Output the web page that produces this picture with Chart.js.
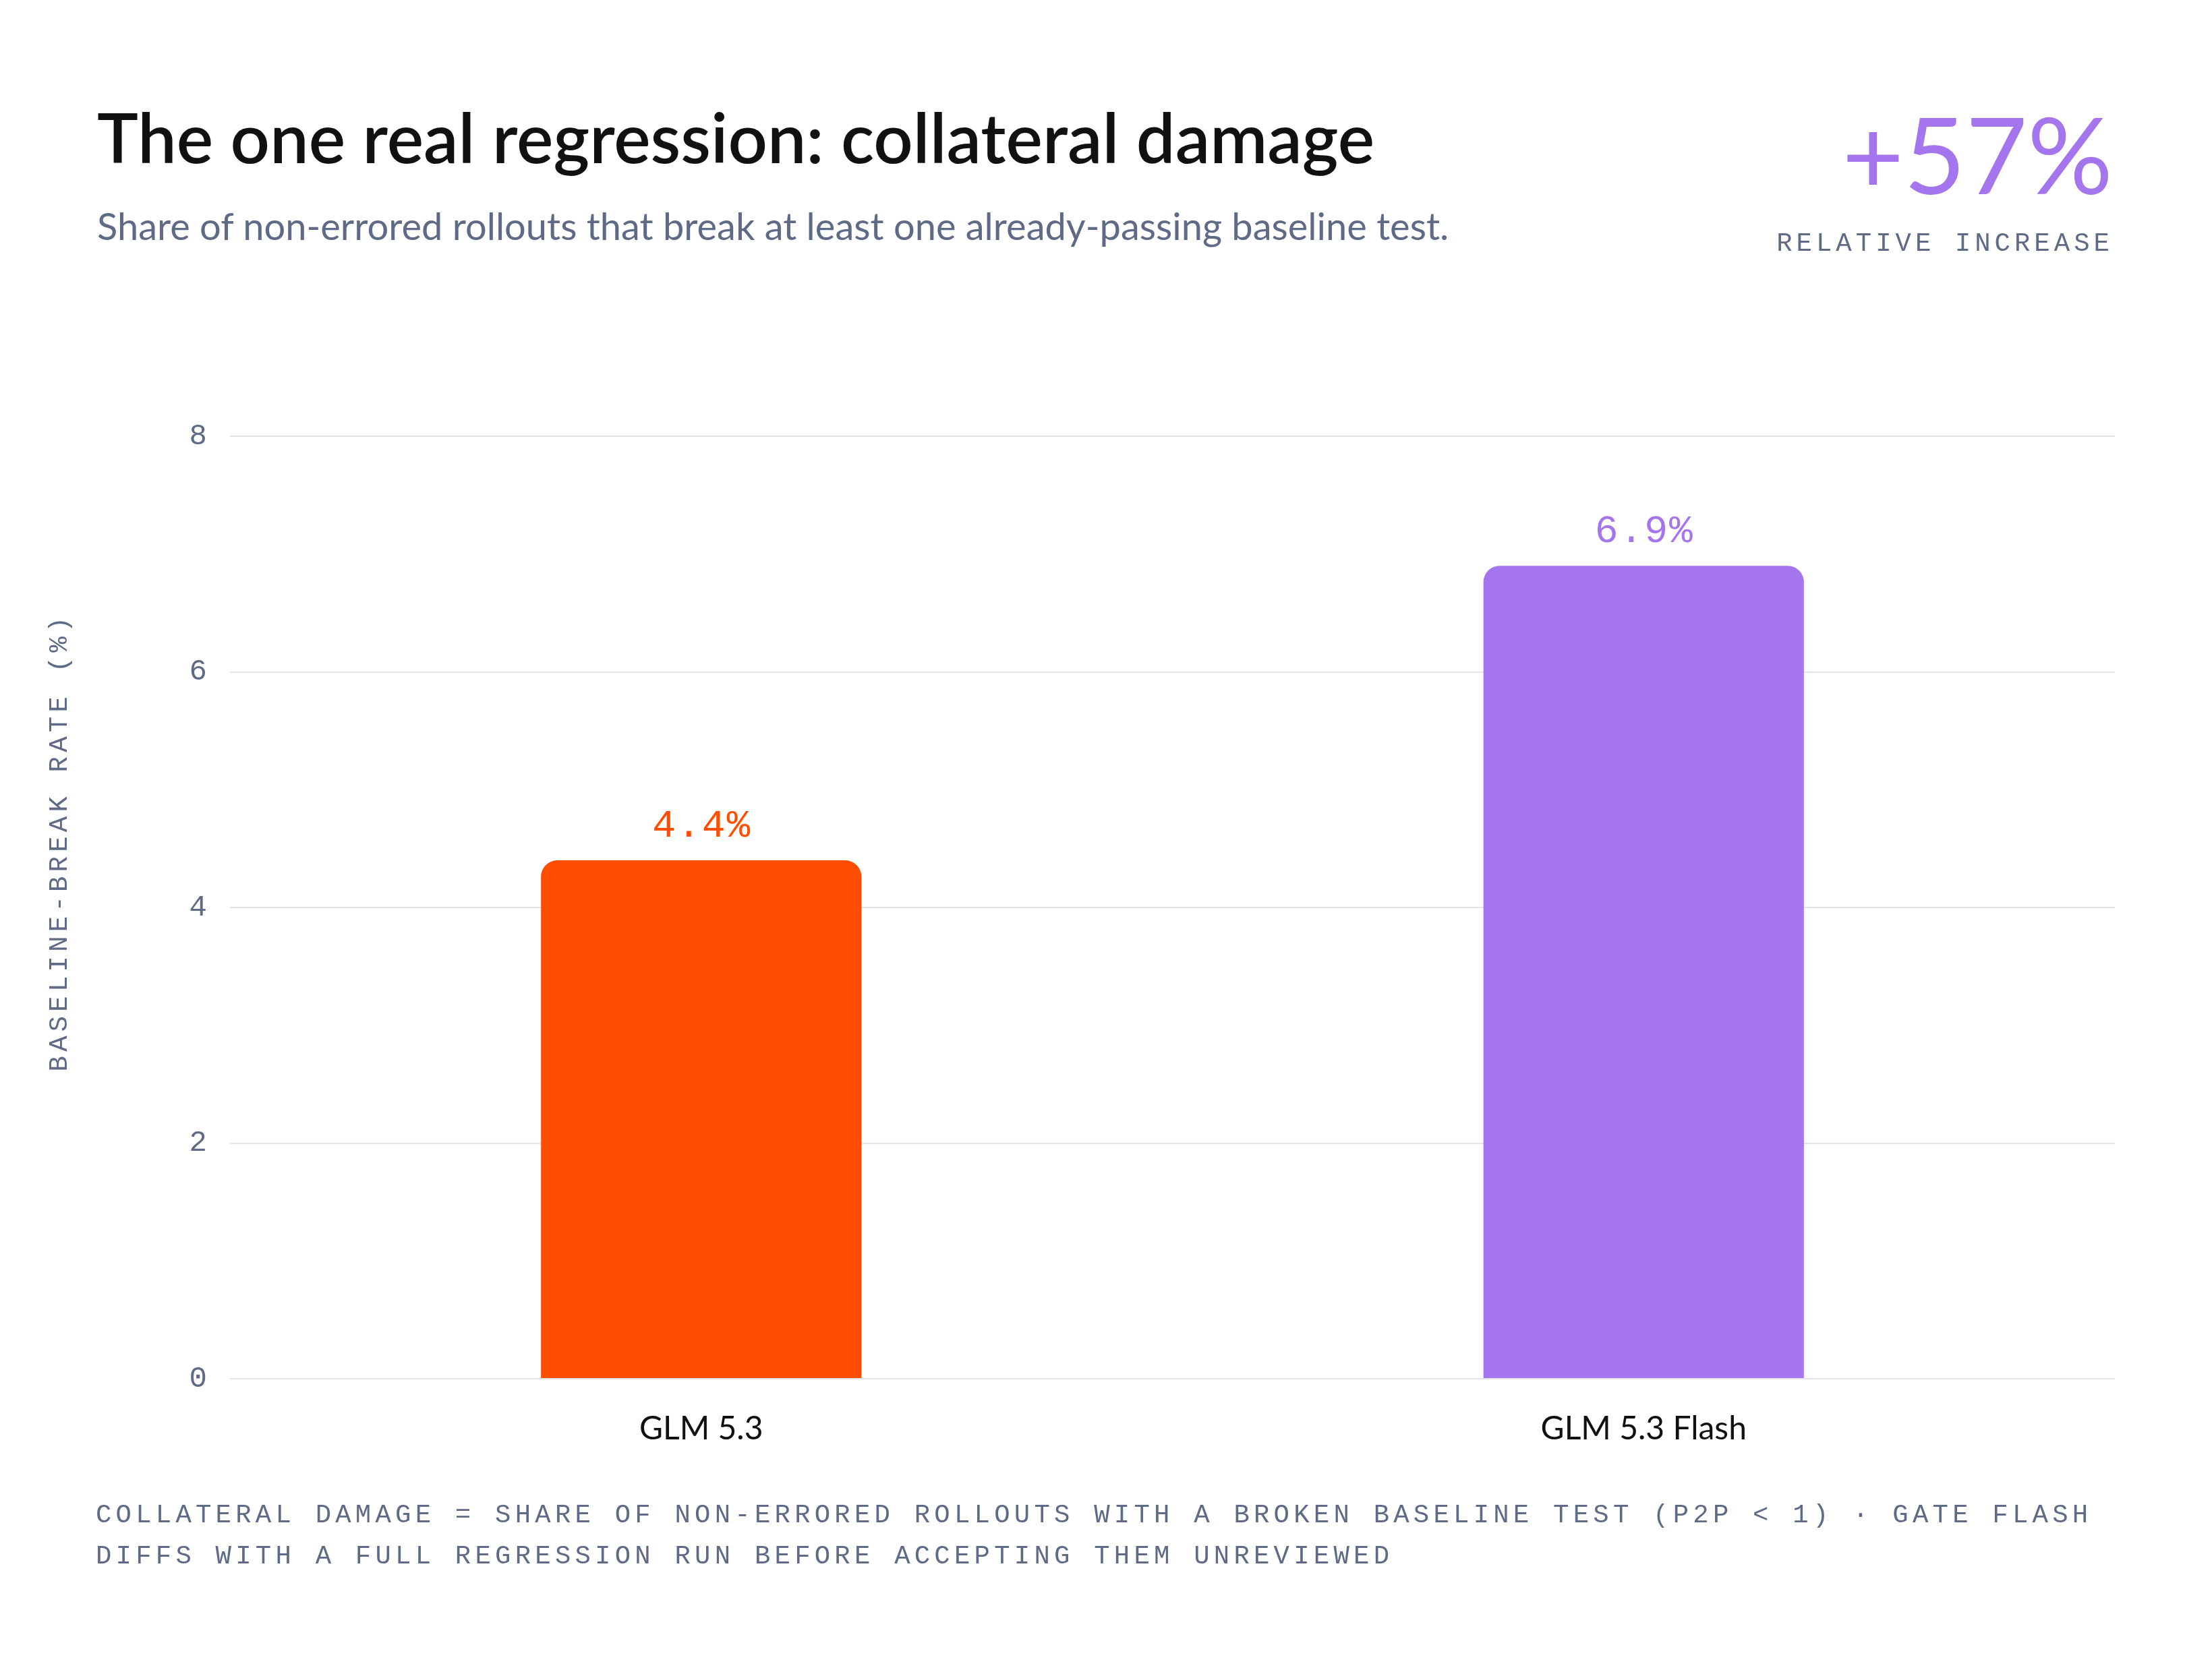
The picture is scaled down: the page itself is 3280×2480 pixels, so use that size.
<!DOCTYPE html>
<html>
<head>
<meta charset="utf-8">
<script src="https://cdn.jsdelivr.net/npm/chart.js@4"></script>
<style>
  html, body { margin: 0; padding: 0; background: #fff; }
  #wrap { position: relative; width: 3280px; height: 2480px; overflow: hidden; background: #fff; }
  #chart { position: absolute; left: 0; top: 0; }
  .t { position: absolute; white-space: nowrap; line-height: 1; }
  #title { left: 144px; top: 141px; font: 600 102.5px Lato; color: #111; }
  #subtitle { left: 144px; top: 301px; font: 400 56px Lato; color: #5f6a86; }
  #big { right: 147px; top: 132px; font: 400 158px Lato; color: #a475ec; }
  #bigLabel { right: 146px; top: 340px; font: 39px "Liberation Mono"; letter-spacing: 6px; color: #5f6a86; }
  #footer { position: absolute; left: 142px; top: 2218px; width: 3020px; font: 39px "Liberation Mono";
            letter-spacing: 6.2px; line-height: 61px; color: #5f6a86; }
</style>
</head>
<body>
<div id="wrap">
  <canvas id="chart" width="3280" height="2480"></canvas>
  <div class="t" id="title">The one real regression: collateral damage</div>
  <div class="t" id="subtitle">Share of non-errored rollouts that break at least one already-passing baseline test.</div>
  <div class="t" id="big">+57%</div>
  <div class="t" id="bigLabel">RELATIVE INCREASE</div>
  <div id="footer">COLLATERAL DAMAGE = SHARE OF NON-ERRORED ROLLOUTS WITH A BROKEN BASELINE TEST (P2P &lt; 1) · GATE FLASH DIFFS WITH A FULL REGRESSION RUN BEFORE ACCEPTING THEM UNREVIEWED</div>
</div>
<script>
// chart data
const models = ['GLM 5.3', 'GLM 5.3 Flash'];
const breakRates = [4.4, 6.9];
const barColors = ['#ff4d00', '#a475ec'];
const yTicks = [0, 2, 4, 6, 8];
const yTitle = 'BASELINE-BREAK RATE (%)';

const slate = '#5f6a86';
const mono = '"Liberation Mono", monospace';

// value labels above each bar
const valueLabels = {
  id: 'valueLabels',
  afterDatasetsDraw(chart) {
    const ctx = chart.ctx;
    const meta = chart.getDatasetMeta(0);
    ctx.save();
    ctx.font = '58px ' + mono;
    ctx.letterSpacing = '2px';
    ctx.textAlign = 'center';
    ctx.textBaseline = 'alphabetic';
    meta.data.forEach((bar, i) => {
      ctx.fillStyle = barColors[i];
      ctx.fillText(breakRates[i].toFixed(1) + '%', bar.x + 1, bar.y - 35);
    });
    ctx.restore();
  }
};

// rotated, letter-spaced y axis title
const yAxisTitle = {
  id: 'yAxisTitle',
  afterDraw(chart) {
    const ctx = chart.ctx;
    ctx.save();
    ctx.translate(89, 1252);
    ctx.rotate(-Math.PI / 2);
    ctx.font = '39px ' + mono;
    ctx.letterSpacing = '6.2px';
    ctx.fillStyle = slate;
    ctx.textAlign = 'center';
    ctx.textBaseline = 'middle';
    ctx.fillText(yTitle, 3, 0);
    ctx.restore();
  }
};

new Chart(document.getElementById('chart').getContext('2d'), {
  type: 'bar',
  data: {
    labels: models,
    datasets: [{
      data: breakRates,
      backgroundColor: barColors,
      borderRadius: { topLeft: 24, topRight: 24, bottomLeft: 0, bottomRight: 0 },
      borderSkipped: false,
      barPercentage: 0.34,
      categoryPercentage: 1
    }]
  },
  options: {
    responsive: false,
    animation: false,
    devicePixelRatio: 1,
    layout: { padding: { top: 647, left: 141, right: 144, bottom: 315 } },
    plugins: {
      legend: { display: false },
      tooltip: { enabled: false }
    },
    scales: {
      x: {
        afterFit(scale) { scale.height = 120; },
        grid: { display: false, drawTicks: false },
        border: { display: false },
        ticks: { color: '#111', padding: 46, font: { family: 'Lato', size: 48 } }
      },
      y: {
        min: yTicks[0],
        max: yTicks[yTicks.length - 1],
        afterFit(scale) { scale.width = 200; },
        afterBuildTicks(scale) { scale.ticks = yTicks.map(v => ({ value: v })); },
        grid: { color: '#e3e3ea', lineWidth: 2, drawTicks: false },
        border: { display: false },
        ticks: { color: slate, padding: 34, font: { family: mono, size: 44 } }
      }
    }
  },
  plugins: [valueLabels, yAxisTitle]
});
</script>
</body>
</html>
